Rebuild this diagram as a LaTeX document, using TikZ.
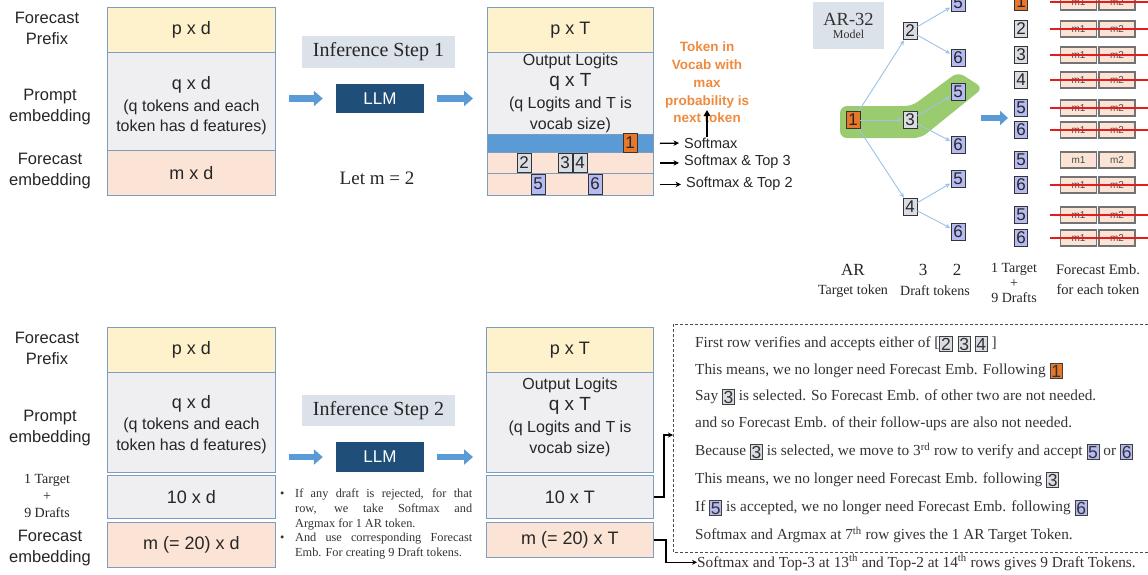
\documentclass[tikz,border=0pt]{standalone}
\usepackage{fontspec}
\setmainfont{Liberation Serif}
\setsansfont{Liberation Sans}
\usetikzlibrary{arrows.meta}
\definecolor{cPre}{HTML}{FEF2CD}
\definecolor{cPro}{HTML}{EFEFF1}
\definecolor{cFor}{HTML}{FBE4D6}
\definecolor{cBord}{HTML}{7D9DBE}
\definecolor{cBlue}{HTML}{5B9BD5}
\definecolor{cStep}{HTML}{DCE2EA}
\definecolor{cLLM}{HTML}{1F4E79}
\definecolor{cTree}{HTML}{9DC3E6}
\definecolor{cGreen}{HTML}{9ACB6E}
\definecolor{cTokO}{HTML}{E5782A}
\definecolor{cTokG}{HTML}{D9DCE3}
\definecolor{cTokP}{HTML}{B5BAF2}
\definecolor{cOrTxt}{HTML}{F08A3E}
\definecolor{cRed}{HTML}{E31D1D}
\definecolor{cTxt}{HTML}{262626}
\newcommand\fsz[2]{\fontsize{#1}{#2}\selectfont}
\newcommand\itok[2]{\raisebox{-2.5pt}{\setlength\fboxsep{0.8pt}\setlength\fboxrule{0.9pt}\fcolorbox{black!75}{#1}{\sffamily\fsz{17.5}{17.5}#2}}}
\begin{document}
\begin{tikzpicture}[x=1pt,y=-1pt,
  lbl/.style={font=\sffamily\fsz{16.5}{21}, align=center, text=cTxt},
  slbl/.style={font=\fsz{14}{16.5}, align=center, text=cTxt},
  rowbox/.style={draw=cBord, line width=0.9pt, anchor=north west, inner sep=0pt, align=center, text=cTxt, font=\sffamily\fsz{16}{20.5}},
  stepbox/.style={fill=cStep, minimum width=153, minimum height=32, inner sep=0pt, text=cTxt, font=\fsz{20}{22}},
  llm/.style={fill=cLLM, text=white, minimum width=88, minimum height=29, inner sep=0pt, font=\sffamily\fsz{17}{20}},
  bigarrow/.style={draw=cBlue, line width=6.5pt, -{Triangle[length=9pt,width=15pt]}},
  tokbase/.style={draw=black!80, line width=0.8pt, inner sep=0pt, minimum width=14, minimum height=18, text=black!85, font=\sffamily\fsz{17}{17}},
  smx/.style={anchor=west, inner sep=0pt, text=cTxt, font=\sffamily\fsz{14.5}{16}},
  smallarrow/.style={draw=black, line width=1.3pt, -{Stealth[length=5.5pt,width=5.5pt]}},
  treearr/.style={draw=cTree, line width=0.9pt, -{Stealth[length=5pt,width=4.5pt]}, shorten >=0.5pt},
  mbox/.style={draw=black!55, line width=1.1pt, fill=cFor, minimum width=36, minimum height=16, inner sep=0pt, text=black!70, font=\sffamily\fsz{10}{10}},
  strike/.style={draw=cRed, line width=1.8pt},
  note/.style={anchor=base west, inner sep=0pt, text=black!80, font=\fsz{15.3}{17}},
  conn/.style={draw=black, line width=1.2pt, -{Stealth[length=5pt,width=5pt]}}
]
\clip (0,0) rectangle (1148,574);
\fill[white] (0,0) rectangle (1148,574);

% ================= TOP LEFT =================
\node[lbl] (lfp) at (47,28) {Forecast\\Prefix};
\node[lbl] (lpe) at (50,107) {Prompt\\embedding};
\node[lbl] (lfe) at (50,171) {Forecast\\embedding};

\node[rowbox, fill=cPre, minimum width=168, minimum height=45] (A1) at (107,7) {\fsz{18}{20}p x d};
\node[rowbox, fill=cPro, minimum width=168, minimum height=98] (A2) at (107,52) {\rule{0pt}{22pt}{\fsz{18}{20}q x d}\\[1pt](q tokens and each\\token has d features)};
\node[rowbox, fill=cFor, minimum width=168, minimum height=45] (A3) at (107,150) {\fsz{18}{20}m x d};

\node[stepbox] (st1) at (378.5,52) {Inference Step 1};
\node[llm] (llm1) at (380,98.5) {LLM};
\node[font=\fsz{19}{22}, text=cTxt] (letm) at (377,178) {Let m = 2};
\draw[bigarrow, shorten <=13pt, shorten >=13pt] (llm1.west -| A2.east) -- (llm1.west);

% output box top
\node[rowbox, fill=cPre, minimum width=166, minimum height=45] (B1) at (487,7) {\fsz{18}{20}p x T};
\node[rowbox, fill=cPro, minimum width=166, minimum height=82] (B2) at (487,52) {Output Logits\\{\fsz{19}{20}q x T}\\[2pt](q Logits and T is\\vocab size)};
\node[rowbox, fill=cBlue, minimum width=166, minimum height=18] (B3) at (487,134) {};
\node[rowbox, fill=cFor, minimum width=166, minimum height=21] (B4) at (487,152) {};
\node[rowbox, fill=cFor, minimum width=166, minimum height=22] (B5) at (487,173) {};
\draw[bigarrow, shorten <=13pt, shorten >=14pt] (llm1.east) -- (llm1.east -| B2.west);

\node[tokbase, fill=cTokO, minimum height=19] (o1) at (630,143) {1};
\node[tokbase, fill=cTokG, minimum height=19] (o2) at (524,162.5) {2};
\node[tokbase, fill=cTokG, minimum height=19] (o3) at (565,162.5) {3};
\node[tokbase, fill=cTokG, minimum height=19] (o4) at (580,162.5) {4};
\node[tokbase, fill=cTokP, minimum height=20] (o5) at (538,184) {5};
\node[tokbase, fill=cTokP, minimum height=20] (o6) at (595,184) {6};

\node[smx] (s1) at (684,143) {Softmax};
\node[smx] (s2) at (684,162) {Softmax \& Top 3};
\node[smx] (s3) at (686,184) {Softmax \& Top 2};
\draw[smallarrow, shorten <=6pt, shorten >=5pt] (B3.east) -- (s1.west);
\draw[smallarrow, shorten <=6pt, shorten >=5pt] (B4.east) -- (s2.west |- B4.east);
\draw[smallarrow, shorten <=6pt, shorten >=5pt] (B5.east) -- (s3.west |- B5.east);

\node[align=center, text=cOrTxt, font=\sffamily\bfseries\fsz{13.5}{17.75}] (ot) at (707,82.5) {Token in\\Vocab with\\max\\probability is\\next token};
\coordinate (upend) at (707,110);
\draw[draw=black, line width=1.7pt, -{Triangle[length=6pt,width=6.5pt]}] (upend |- s1.north) -- (upend);

% ================= TOP RIGHT (tree) =================
\node[fill=cStep, minimum width=71, minimum height=47, inner sep=0pt, align=center, text=black!80] (ar) at (848.5,25.5) {{\fsz{18.5}{20}AR-32}\\[1pt]{\fsz{12}{14}Model}};

\fill[cGreen, rounded corners=7] (840,106) -- (912,106) -- (958,72) -- (983,88) -- (921,138) -- (840,138) -- cycle;

\node[tokbase, fill=cTokO, minimum height=17] (t1) at (853,120) {1};
\node[tokbase, fill=cTokG, minimum height=17] (t2) at (910,31) {2};
\node[tokbase, fill=cTokG, minimum height=17] (t3) at (910,120) {3};
\node[tokbase, fill=cTokG, minimum height=17] (t4) at (910,207) {4};
\node[tokbase, fill=cTokP, minimum height=17] (t5a) at (958,3) {5};
\node[tokbase, fill=cTokP, minimum height=17] (t6a) at (958,58) {6};
\node[tokbase, fill=cTokP, minimum height=17] (t5b) at (958,92) {5};
\node[tokbase, fill=cTokP, minimum height=17] (t6b) at (958,145) {6};
\node[tokbase, fill=cTokP, minimum height=17] (t5c) at (958,179) {5};
\node[tokbase, fill=cTokP, minimum height=17] (t6c) at (958,232) {6};
\draw[treearr] (t1) -- (t2);
\draw[treearr] (t1) -- (t3);
\draw[treearr] (t1) -- (t4);
\draw[treearr] (t2) -- (t5a);
\draw[treearr] (t2) -- (t6a);
\draw[treearr] (t3) -- (t5b);
\draw[treearr] (t3) -- (t6b);
\draw[treearr] (t4) -- (t5c);
\draw[treearr] (t4) -- (t6c);

\coordinate (baA) at (981,118);
\coordinate (baB) at (1008,118);
\draw[bigarrow, line width=6pt, -{Triangle[length=8pt,width=14pt]}] (baA) -- (baB);

% token list with forecast embeddings
\foreach \i/\y/\d/\fc/\st in {1/2/1/cTokO/1, 2/29/2/cTokG/1, 3/55/3/cTokG/1, 4/80/4/cTokG/1, 5/108/5/cTokP/1, 6/130/6/cTokP/1, 7/160/5/cTokP/0, 8/185/6/cTokP/1, 9/215/5/cTokP/1, 10/238/6/cTokP/1}{
  \node[tokbase, fill=\fc, minimum width=13, minimum height=17] (L\i) at (1021,\y) {\d};
  \node[mbox] (ma\i) at (1078.5,\y) {m1};
  \node[mbox] (mb\i) at (1117,\y) {m2};
  \ifnum\st=1
    \draw[strike] ([xshift=-10pt]ma\i.west) -- ([xshift=12pt]mb\i.east);
  \fi
}

\node[font=\fsz{17}{20}, text=black!85] (lAR) at (853,270) {AR};
\node[font=\fsz{14}{16}, text=black!85] (lTT) at (853,291) {Target token};
\node[font=\fsz{17}{20}, text=black!85] (l3) at (923,270) {3};
\node[font=\fsz{17}{20}, text=black!85] (l2) at (957,270) {2};
\node[font=\fsz{14}{16}, text=black!85] (lDT) at (935,291) {Draft tokens};
\node[align=center, font=\fsz{14}{15}, text=black!85] (l1T) at (1014,283) {1 Target\\+\\9 Drafts};
\node[align=center, font=\fsz{14.5}{20}, text=black!85] (lFE) at (1098,280) {Forecast Emb.\\for each token};

% ================= BOTTOM LEFT =================
\node[lbl] (blfp) at (47,348) {Forecast\\Prefix};
\node[lbl] (blpe) at (50,428) {Prompt\\embedding};
\node[slbl, font=\fsz{14}{17}] (bltd) at (47,496) {1 Target\\+\\9 Drafts};
\node[lbl] (blfe) at (50,548) {Forecast\\embedding};

\node[rowbox, fill=cPre, minimum width=168, minimum height=45] (C1) at (107,327) {\fsz{18}{20}p x d};
\node[rowbox, fill=cPro, minimum width=168, minimum height=100] (C2) at (107,372) {\rule{0pt}{17pt}{\fsz{18}{20}q x d}\\[1pt](q tokens and each\\token has d features)};
\node[rowbox, fill=cPro, minimum width=168, minimum height=43] (C3) at (107,475) {\fsz{18}{20}10 x d};
\node[rowbox, fill=cFor, minimum width=168, minimum height=45] (C4) at (107,522) {\fsz{18}{20}m (= 20) x d};

\node[stepbox, minimum height=31] (st2) at (378.5,410.5) {Inference Step 2};
\node[llm, minimum height=30] (llm2) at (380,457) {LLM};
\draw[bigarrow, shorten <=13pt, shorten >=13pt] (llm2.west -| C2.east) -- (llm2.west);

\node[anchor=north west, inner sep=0pt, align=left, text=black!80, font=\fsz{12.3}{14.7}] (bul) at (280,489) {%
\makebox[15pt][l]{\textbullet}\makebox[177pt][s]{If any draft is rejected, for that}\\
\hspace*{15pt}\makebox[177pt][s]{row, we take Softmax and}\\
\hspace*{15pt}Argmax for 1 AR token.\\
\makebox[15pt][l]{\textbullet}\makebox[177pt][s]{And use corresponding Forecast}\\
\hspace*{15pt}Emb. For creating 9 Draft tokens.};

% output box bottom
\node[rowbox, fill=cPre, minimum width=167, minimum height=45] (D1) at (486,327) {\fsz{18}{20}p x T};
\node[rowbox, fill=cPro, minimum width=167, minimum height=100] (D2) at (486,372) {Output Logits\\{\fsz{19}{20}q x T}\\[2pt](q Logits and T is\\vocab size)\rule[-14pt]{0pt}{14pt}};
\node[rowbox, fill=cPro, minimum width=167, minimum height=43] (D3) at (486,475) {\fsz{18}{20}10 x T};
\node[rowbox, fill=cFor, minimum width=167, minimum height=35] (D4) at (486,522) {\fsz{18}{20}m (= 20) x T};
\draw[bigarrow, shorten <=13pt, shorten >=13pt] (llm2.east) -- (llm2.east -| D2.west);

% dashed note box
\draw[black!70, line width=1pt, dash pattern=on 3pt off 2pt] (673,324) rectangle (1155,552);
\node[note] (n1) at (695,347.5) {First row verifies and accepts either of [\itok{cTokG}{2}\hspace{5pt}\itok{cTokG}{3}\hspace{4pt}\itok{cTokG}{4}\ ]};
\node[note] (n2) at (695,374.5) {This means, we no longer need Forecast Emb. Following \itok{cTokO}{1}};
\node[note] (n3) at (695,400.5) {Say \itok{cTokG}{3} is selected. So Forecast Emb. of other two are not needed.};
\node[note] (n4) at (695,427.5) {and so Forecast Emb. of their follow-ups are also not needed.};
\node[note] (n5) at (695,455.5) {Because \itok{cTokG}{3} is selected, we move to 3\textsuperscript{rd} row to verify and accept \itok{cTokP}{5} or \itok{cTokP}{6}};
\node[note] (n6) at (695,483.5) {This means, we no longer need Forecast Emb. following \itok{cTokG}{3}};
\node[note] (n7) at (695,511.5) {If \itok{cTokP}{5} is accepted, we no longer need Forecast Emb. following \itok{cTokP}{6}};
\node[note] (n8) at (695,539.5) {Softmax and Argmax at 7\textsuperscript{th} row gives the 1 AR Target Token.};
\node[note] (n9) at (697,567) {Softmax and Top-3 at 13\textsuperscript{th} and Top-2 at 14\textsuperscript{th} rows gives 9 Draft Tokens.};

\coordinate (dIn) at (673,435);
\draw[conn] (D3.east) -- ++(10,0) |- (dIn);
\draw[conn] (D4.east) -- ++(12,0) |- (n9.west);
\end{tikzpicture}
\end{document}
